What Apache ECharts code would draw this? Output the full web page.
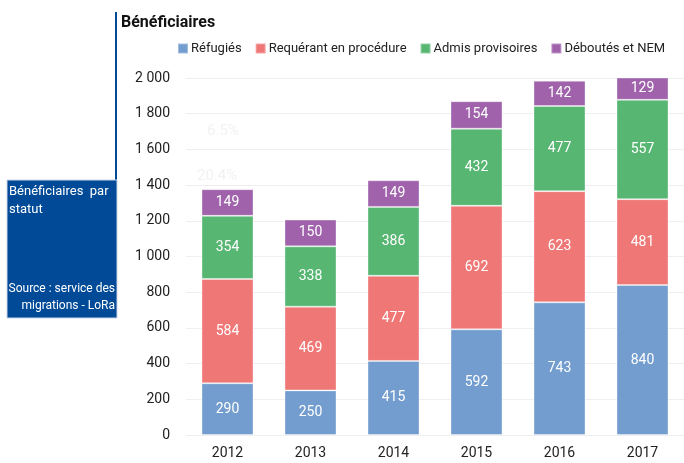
<!DOCTYPE html>
<html>
<head>
<meta charset="utf-8">
<script src="https://cdn.jsdelivr.net/npm/echarts@6/dist/echarts.min.js"></script>
<style>
  html, body { margin: 0; padding: 0; background: #fff; }
  #chart { width: 684px; height: 463px; }
</style>
</head>
<body>
<div id="chart"></div>
<script>
// données
const years = ['2012', '2013', '2014', '2015', '2016', '2017'];
const refugies = [290, 250, 415, 592, 743, 840];
const requerants = [584, 469, 477, 692, 623, 481];
const admis = [354, 338, 386, 432, 477, 557];
const deboutes = [149, 150, 149, 154, 142, 129];
const yTicks = [0, 200, 400, 600, 800, 1000, 1200, 1400, 1600, 1800, 2000];

const font = "Roboto, sans-serif";
const blue = '#004a98';

function serie(name, data, color) {
  return {
    name: name,
    type: 'bar',
    stack: 'total',
    data: data,
    barWidth: 52,
    itemStyle: { color: color, borderColor: 'rgba(255,255,255,0.35)', borderWidth: 1 },
    label: {
      show: true,
      position: 'inside',
      color: '#fff',
      fontSize: 14,
      fontFamily: font
    }
  };
}

const chart = echarts.init(document.getElementById('chart'));
chart.setOption({
  animation: false,
  textStyle: { fontFamily: font },
  title: {
    text: 'Bénéficiaires',
    left: 116,
    top: 10,
    textStyle: { fontSize: 16, fontWeight: 'bold', color: '#111', fontFamily: font }
  },
  legend: {
    top: 37,
    left: 172,
    itemWidth: 10,
    itemHeight: 10,
    itemGap: 13,
    icon: 'rect',
    textStyle: { fontSize: 13, color: '#222', fontFamily: font, padding: [0, 0, 0, -2] },
    data: ['Réfugiés', 'Requérant en procédure', 'Admis provisoires', 'Déboutés et NEM']
  },
  grid: { left: 186, top: 78, width: 505, bottom: 28 },
  xAxis: {
    type: 'category',
    data: years,
    axisLine: { show: false },
    axisTick: { show: false },
    axisLabel: { fontSize: 14, color: '#222', margin: 11 }
  },
  yAxis: {
    type: 'value',
    min: 0,
    max: 2000,
    interval: 200,
    axisLine: { show: false },
    axisTick: { show: false },
    splitLine: { lineStyle: { color: '#efefef' } },
    axisLabel: {
      fontSize: 14,
      color: '#222',
      margin: 16,
      formatter: function (v) {
        return yTicks.indexOf(v) >= 0 ? String(v).replace(/\B(?=(\d{3})+(?!\d))/g, ' ') : '';
      }
    }
  },
  graphic: [
    { type: 'rect', shape: { x: 115, y: 12, width: 2, height: 170 }, style: { fill: blue } },
    { type: 'rect', shape: { x: 7, y: 180, width: 110, height: 138 }, style: { fill: blue, stroke: '#c9d3e6', lineWidth: 1 } },
    { type: 'text', x: 9, y: 183, style: { text: 'Bénéficiaires  par\nstatut', fill: '#fff', font: '13px ' + font, lineHeight: 18 } },
    { type: 'text', x: 115, y: 280, style: { text: 'Source : service des\nmigrations - LoRa', fill: '#fff', font: '12px ' + font, lineHeight: 17, align: 'right' } },
    { type: 'text', x: 207, y: 124, style: { text: '6.5%', fill: '#f2f2f2', font: '15px ' + font } },
    { type: 'text', x: 197, y: 169, style: { text: '20.4%', fill: '#f2f2f2', font: '15px ' + font } }
  ],
  series: [
    serie('Réfugiés', refugies, '#729dce'),
    serie('Requérant en procédure', requerants, '#ef7776'),
    serie('Admis provisoires', admis, '#58b673'),
    serie('Déboutés et NEM', deboutes, '#9f62ab')
  ]
});
</script>
</body>
</html>
